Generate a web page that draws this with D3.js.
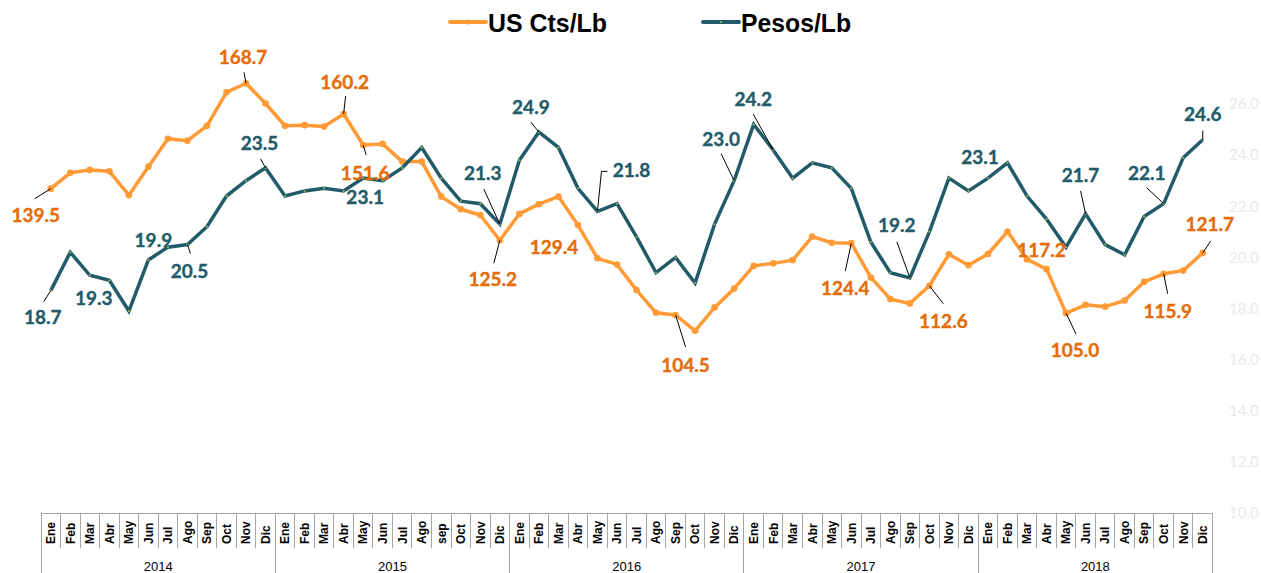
<!DOCTYPE html>
<html>
<head>
<meta charset="utf-8">
<script src="https://cdn.jsdelivr.net/npm/d3@7"></script>
<style>
  html, body { margin: 0; padding: 0; background: #ffffff; }
  svg { display: block; }
</style>
</head>
<body>
<svg id="chart" width="1261" height="573"></svg>
<script>
// ---- data ---------------------------------------------------------------
const years = [2014, 2015, 2016, 2017, 2018];

const monthLabels = [
  "Ene","Feb","Mar","Abr","May","Jun","Jul","Ago","Sep","Oct","Nov","Dic",
  "Ene","Feb","Mar","Abr","May","Jun","Jul","Ago","sep","Oct","Nov","Dic",
  "Ene","Feb","Mar","Abr","May","Jun","Jul","Ago","Sep","Oct","Nov","Dic",
  "Ene","Feb","Mar","Abr","May","Jun","Jul","Ago","Sep","Oct","Nov","Dic",
  "Ene","Feb","Mar","Abr","May","Jun","Jul","Ago","Sep","Oct","Nov","Dic"
];

// US cents per pound
const usCts = [
  139.5, 143.9, 144.7, 144.3, 137.7, 145.6, 153.3, 152.8, 156.9, 166.2, 168.7, 163.1,
  156.9, 157.1, 156.7, 160.2, 151.6, 151.9, 147.0, 147.0, 137.3, 133.8, 132.2, 125.2,
  132.5, 135.2, 137.3, 129.4, 120.2, 118.5, 111.4, 105.1, 104.5, 100.1, 106.6, 111.8,
  118.1, 118.8, 119.7, 126.2, 124.5, 124.4, 114.9, 108.9, 107.7, 112.6, 121.3, 118.3,
  121.4, 127.6, 119.9, 117.2, 105.0, 107.3, 106.8, 108.5, 113.7, 115.9, 116.8, 121.7
];

// Mexican pesos per pound
const pesos = [
  18.7, 20.2, 19.3, 19.1, 17.9, 19.9, 20.4, 20.5, 21.2, 22.4, 23.0, 23.5,
  22.4, 22.6, 22.7, 22.6, 23.1, 23.0, 23.5, 24.3, 23.1, 22.2, 22.1, 21.3,
  23.8, 24.9, 24.3, 22.7, 21.8, 22.1, 20.8, 19.4, 20.0, 19.0, 21.3, 23.0,
  25.2, 24.2, 23.1, 23.7, 23.5, 22.7, 20.6, 19.4, 19.2, 21.0, 23.1, 22.6,
  23.1, 23.7, 22.4, 21.5, 20.4, 21.7, 20.5, 20.1, 21.6, 22.1, 23.9, 24.6
];

const pesosTicks = [10, 12, 14, 16, 18, 20, 22, 24, 26];

// Months (index into the series) that carry a value label
const usCtsLabelled = [0, 10, 15, 16, 23, 27, 32, 41, 45, 51, 52, 57, 59];
const pesosLabelled = [0, 2, 5, 7, 11, 16, 23, 25, 28, 35, 37, 44, 48, 53, 57, 59];

// ---- label placement (text offset and leader path, relative to the point)
const usCtsLabelLayout = {
  0:  { dx: -15, dy: 27, leader: [[-16, 10]] },
  10: { dx: -3,  dy: -26, leader: [[-2, -11]] },
  15: { dx: 1,   dy: -32, leader: [[2, -18]] },
  16: { dx: 2,   dy: 28, leader: [[3, 10]] },
  23: { dx: -7,  dy: 39, leader: [[-6, 23]] },
  27: { dx: -24, dy: 22, leader: null },
  32: { dx: 10,  dy: 50, leader: [[10, 32]] },
  41: { dx: -6,  dy: 45, leader: [[-6, 28]] },
  45: { dx: 14,  dy: 35, leader: [[14, 18]] },
  51: { dx: -5,  dy: -19, leader: null },
  52: { dx: 9,   dy: 37, leader: [[10, 21]] },
  57: { dx: 4,   dy: 37, leader: [[4, 20]] },
  59: { dx: 7,   dy: -29, leader: [[8, -12]] }
};

const pesosLabelLayout = {
  0:  { dx: -8,  dy: 27, leader: [[-7, 11]] },
  2:  { dx: 4,   dy: 23, leader: null },
  5:  { dx: 5,   dy: -20, leader: null },
  7:  { dx: 2,   dy: 27, leader: [[3, 9]] },
  11: { dx: -6,  dy: -25, leader: [[-5, -9]] },
  16: { dx: 2,   dy: 19, leader: null },
  23: { dx: -17, dy: -51, leader: [[-16, -35]] },
  25: { dx: -8,  dy: -25, leader: [[-8, -10]] },
  28: { dx: 34,  dy: -41, leader: [[4, -40], [10, -40]] },
  35: { dx: -13, dy: -42, leader: [[-13, -27]] },
  37: { dx: -20, dy: -51, leader: [[-20, -36]] },
  44: { dx: -13, dy: -53, leader: [[-13, -36]] },
  48: { dx: -8,  dy: -21, leader: null },
  53: { dx: -5,  dy: -39, leader: [[-5, -23]] },
  57: { dx: -17, dy: -31, leader: [[-17, -16]] },
  59: { dx: 0,   dy: -26, leader: [[0, -9]] }
};

// ---- styles -----------------------------------------------------------
const ORANGE = "#FF9A35";
const ORANGE_TEXT = "#E46C0A";
const TEAL = "#215B69";
const TEAL_DOT = "#9CBB5A";
const GRID = "#A6A6A6";

// ---- scales -----------------------------------------------------------
const svg = d3.select("#chart");

const x = d3.scaleBand()
  .domain(d3.range(monthLabels.length))
  .range([41, 1212.5])
  .padding(0);
const cx = i => x(i) + x.bandwidth() / 2;

const yUs = d3.scaleLinear().domain([50, 180]).range([511.65, 42.5]);
const yPesos = d3.scaleLinear().domain([10, 26]).range([513, 104]);

// ---- right axis (pesos) ------------------------------------------------
const axisR = d3.axisRight(yPesos)
  .tickValues(pesosTicks)
  .tickFormat(d3.format(".1f"))
  .tickSize(0)
  .tickPadding(0);

const gR = svg.append("g")
  .attr("transform", "translate(1229,0)")
  .call(axisR);
gR.select(".domain").remove();
gR.selectAll("text")
  .attr("fill", "#E9E9E9")
  .attr("font-family", "Lato, 'Open Sans', sans-serif")
  .attr("font-size", 15)
  .attr("text-anchor", "start");

// ---- category table under the plot -------------------------------------
const tableTop = 513, monthRowBottom = 548, tableBottom = 573;
const tbl = svg.append("g").attr("shape-rendering", "crispEdges");

tbl.append("line")
  .attr("x1", x(0)).attr("x2", x.range()[1])
  .attr("y1", tableTop).attr("y2", tableTop)
  .attr("stroke", GRID).attr("stroke-width", 1);

tbl.selectAll("line.mdiv")
  .data(d3.range(monthLabels.length + 1))
  .join("line")
  .attr("class", "mdiv")
  .attr("x1", i => i < monthLabels.length ? x(i) : x.range()[1])
  .attr("x2", i => i < monthLabels.length ? x(i) : x.range()[1])
  .attr("y1", tableTop)
  .attr("y2", i => i % 12 === 0 ? tableBottom : monthRowBottom)
  .attr("stroke", GRID).attr("stroke-width", 1);

tbl.selectAll("text.month")
  .data(monthLabels)
  .join("text")
  .attr("class", "month")
  .attr("transform", (d, i) => `translate(${cx(i)},${monthRowBottom - 4}) rotate(-90)`)
  .attr("dy", "0.36em")
  .attr("text-anchor", "start")
  .attr("font-family", "'Liberation Sans', Arial, sans-serif")
  .attr("font-weight", "bold")
  .attr("font-size", 12)
  .attr("fill", "#000")
  .text(d => d);

svg.selectAll("text.year")
  .data(years)
  .join("text")
  .attr("class", "year")
  .attr("x", (d, k) => (x(k * 12) + (k * 12 + 12 < monthLabels.length ? x(k * 12 + 12) : x.range()[1])) / 2)
  .attr("y", 571)
  .attr("text-anchor", "middle")
  .attr("font-family", "'Liberation Sans', Arial, sans-serif")
  .attr("font-size", 13)
  .attr("fill", "#000")
  .text(d => d);

// ---- lines ---------------------------------------------------------------
const usLine = d3.line().x((d, i) => cx(i)).y(d => yUs(d));
const pesosLine = d3.line().x((d, i) => cx(i)).y(d => yPesos(d));

svg.append("path")
  .datum(usCts)
  .attr("d", usLine)
  .attr("fill", "none")
  .attr("stroke", ORANGE)
  .attr("stroke-width", 3.5)
  .attr("stroke-linejoin", "round");

svg.append("g").selectAll("circle")
  .data(usCts)
  .join("circle")
  .attr("cx", (d, i) => cx(i))
  .attr("cy", d => yUs(d))
  .attr("r", 3.3)
  .attr("fill", ORANGE);

svg.append("path")
  .datum(pesos)
  .attr("d", pesosLine)
  .attr("fill", "none")
  .attr("stroke", TEAL)
  .attr("stroke-width", 3.5)
  .attr("stroke-linejoin", "miter");

svg.append("g").selectAll("circle")
  .data(pesos)
  .join("circle")
  .attr("cx", (d, i) => cx(i))
  .attr("cy", d => yPesos(d))
  .attr("r", 1)
  .attr("fill", TEAL_DOT);

// ---- value labels with leader lines --------------------------------------
const fmt = d3.format(".1f");

function drawLabels(values, idxs, layout, yScale, color) {
  const g = svg.append("g");
  idxs.forEach(i => {
    const px = cx(i), py = yScale(values[i]);
    const L = layout[i];
    if (L.leader) {
      const pts = [[px, py]].concat(L.leader.map(([a, b]) => [px + a, py + b]));
      g.append("path")
        .attr("d", d3.line()(pts))
        .attr("fill", "none")
        .attr("stroke", "#000")
        .attr("stroke-width", 1);
    }
    g.append("text")
      .attr("x", px + L.dx)
      .attr("y", py + L.dy)
      .attr("dy", "0.36em")
      .attr("text-anchor", "middle")
      .attr("font-family", "Lato, 'Open Sans', sans-serif")
      .attr("font-weight", "bold")
      .attr("font-size", 19)
      .attr("fill", color)
      .attr("stroke", color)
      .attr("stroke-width", 0.35)
      .text(fmt(values[i]));
  });
}

drawLabels(usCts, usCtsLabelled, usCtsLabelLayout, yUs, ORANGE_TEXT);
drawLabels(pesos, pesosLabelled, pesosLabelLayout, yPesos, TEAL);

// ---- legend -------------------------------------------------------------
const legend = svg.append("g");
const legendItems = [
  { name: "US Cts/Lb", color: ORANGE, dot: ORANGE, r: 2.5, x0: 450, width: 119 },
  { name: "Pesos/Lb", color: TEAL, dot: TEAL_DOT, r: 1, x0: 703, width: 110 }
];
legendItems.forEach(it => {
  legend.append("line")
    .attr("x1", it.x0).attr("x2", it.x0 + 36)
    .attr("y1", 22).attr("y2", 22)
    .attr("stroke", it.color).attr("stroke-width", 4)
    .attr("stroke-linecap", "round");
  legend.append("circle")
    .attr("cx", it.x0 + 18).attr("cy", 22).attr("r", it.r)
    .attr("fill", it.dot);
  legend.append("text")
    .attr("x", it.x0 + 38)
    .attr("y", 32)
    .attr("font-family", "'Liberation Sans', Arial, sans-serif")
    .attr("font-weight", "bold")
    .attr("font-size", 25.5)
    .attr("textLength", it.width)
    .attr("lengthAdjust", "spacingAndGlyphs")
    .attr("fill", "#000")
    .text(it.name);
});
</script>
</body>
</html>
